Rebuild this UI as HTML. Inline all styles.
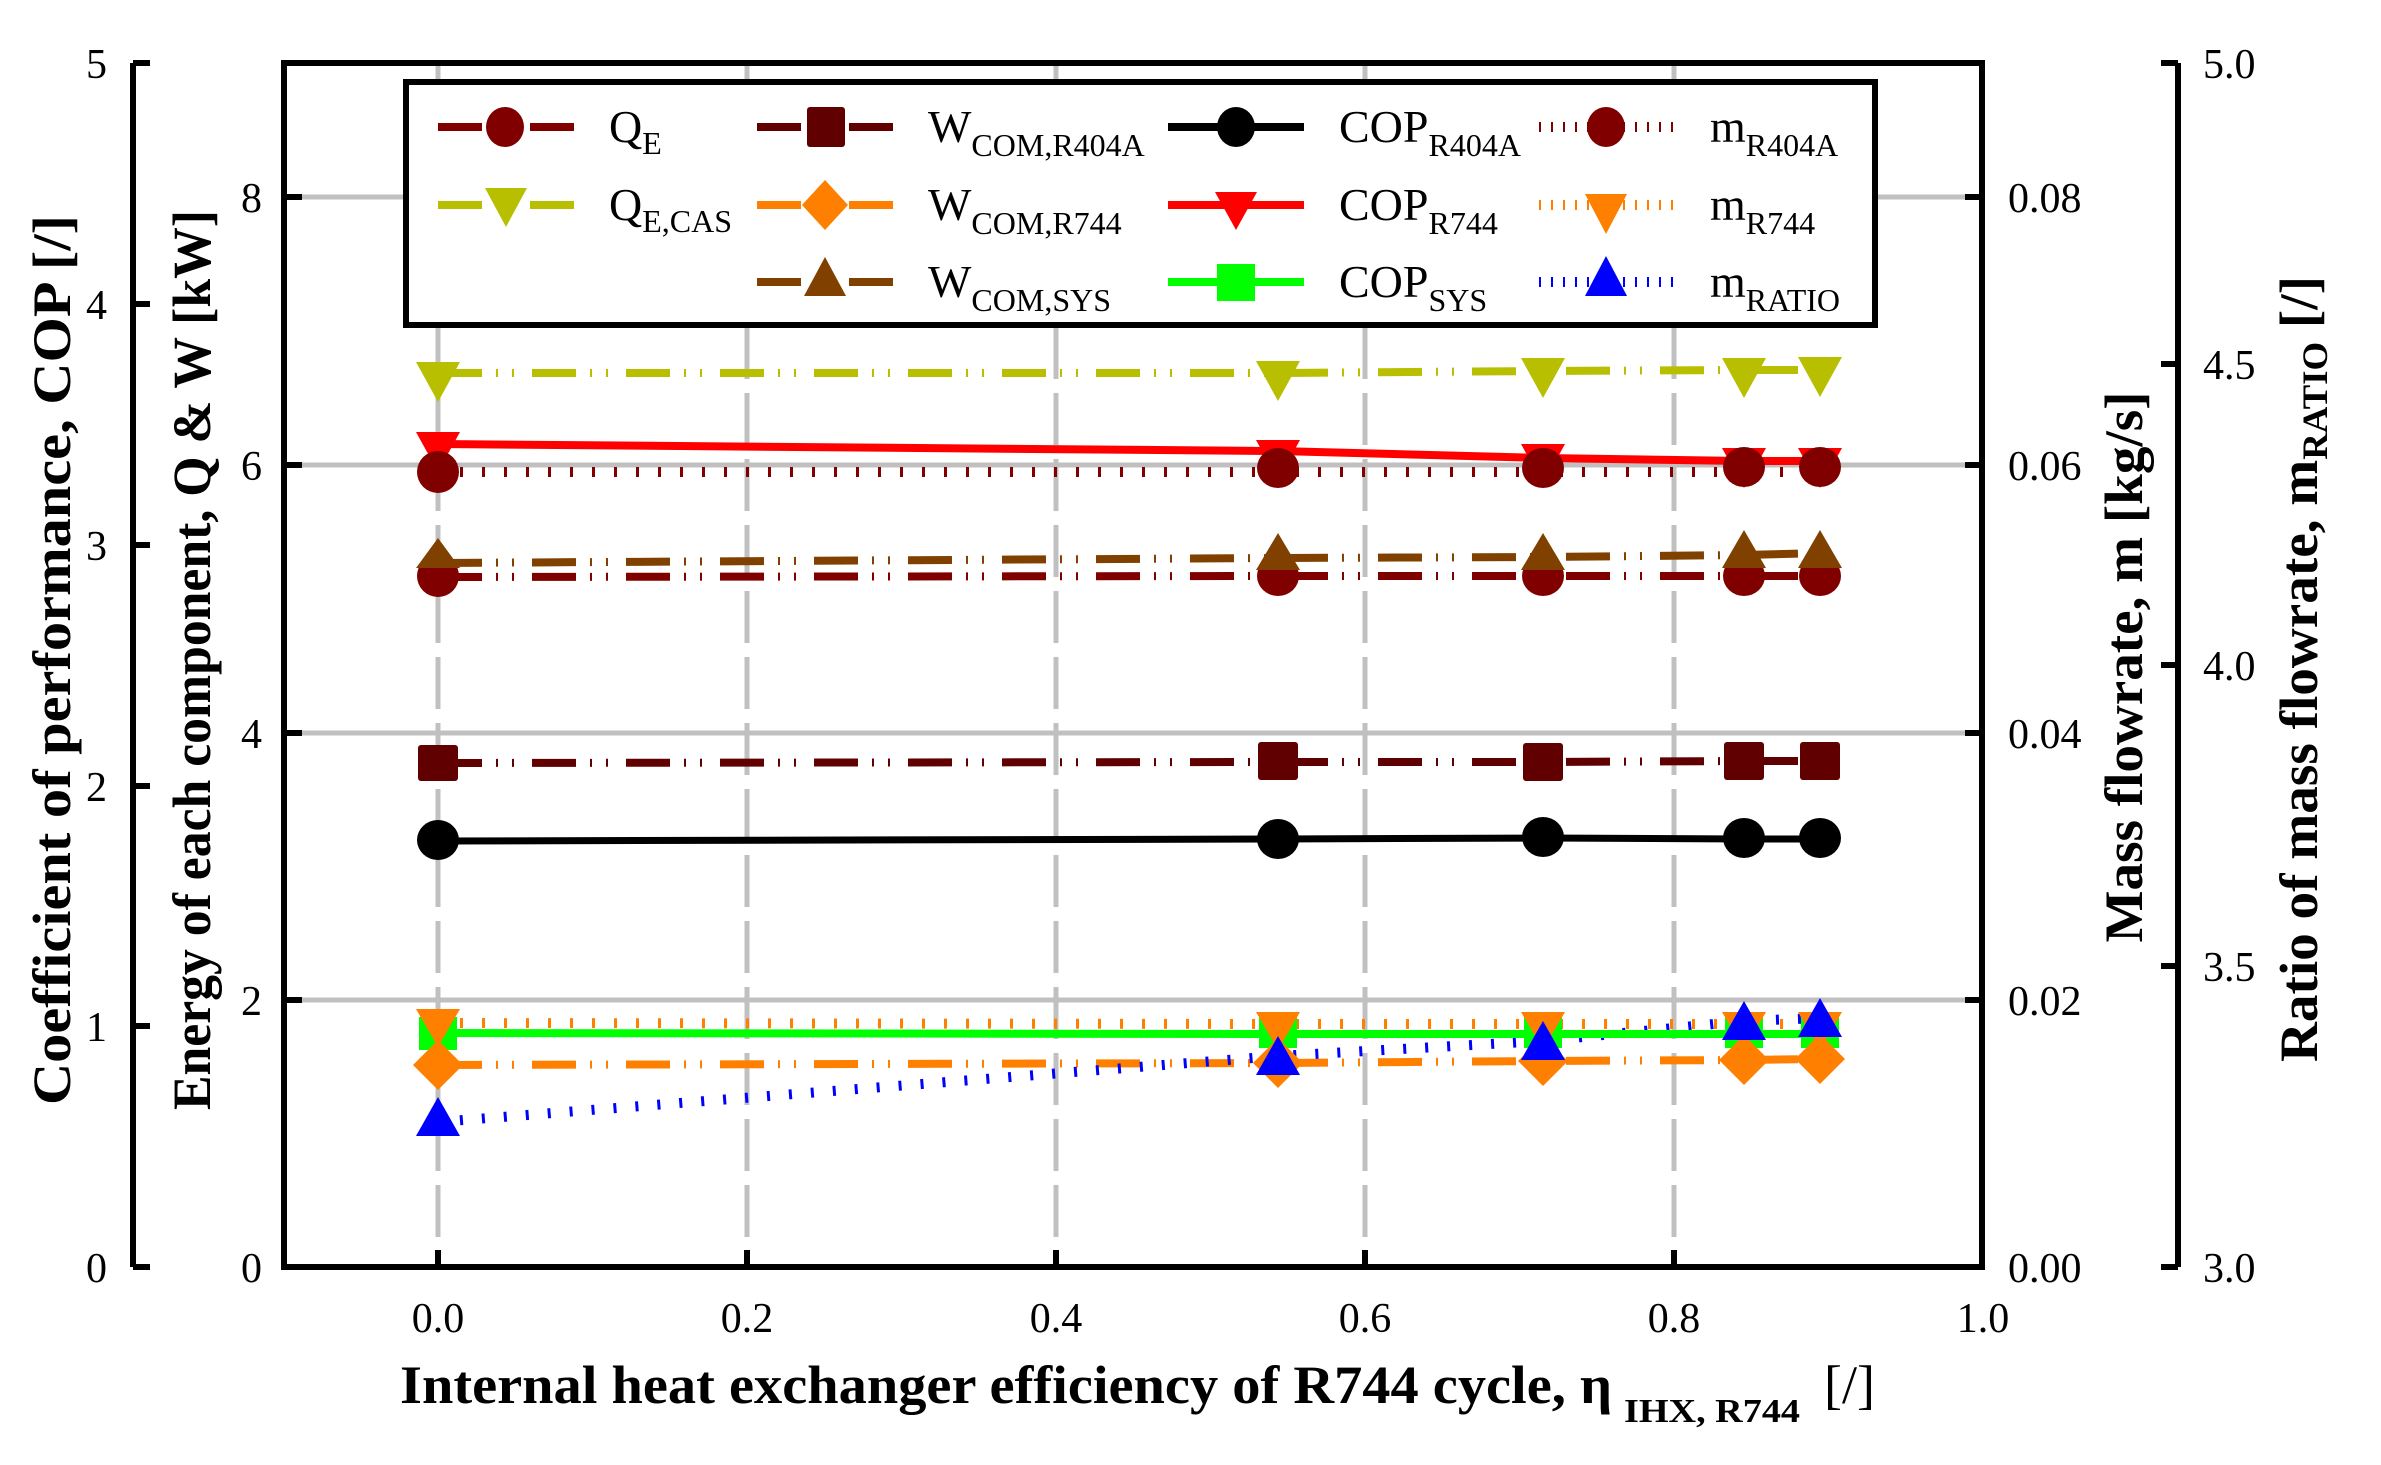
<!DOCTYPE html>
<html><head><meta charset="utf-8"><style>
html,body{margin:0;padding:0;background:#fff;}
svg{display:block;}
text{font-family:"Liberation Serif",serif;}
</style></head><body>
<svg width="2381" height="1465" viewBox="0 0 2381 1465" xmlns="http://www.w3.org/2000/svg">
<defs>
<clipPath id="pc"><rect x="284" y="63" width="1698" height="1204"/></clipPath>
</defs>
<g stroke="#c0c0c0" stroke-width="5" fill="none">
<line x1="284" y1="1000" x2="1982" y2="1000"/>
<line x1="284" y1="733" x2="1982" y2="733"/>
<line x1="284" y1="465" x2="1982" y2="465"/>
<line x1="284" y1="197" x2="1982" y2="197"/>
<g stroke-dasharray="52 14">
<line x1="438" y1="63" x2="438" y2="1267"/>
<line x1="747" y1="63" x2="747" y2="1267"/>
<line x1="1056" y1="63" x2="1056" y2="1267"/>
<line x1="1365" y1="63" x2="1365" y2="1267"/>
<line x1="1674" y1="63" x2="1674" y2="1267"/>
</g>
</g>

<g clip-path="url(#pc)" fill="none">
<g stroke-width="8" stroke-dasharray="44 14 2 14 2 18">
<polyline stroke="#b8bf00" points="438,373 1278,373 1543,371 1744,370 1820,370"/>
<polyline stroke="#804000" points="438,563 1278,558 1543,557 1744,555 1820,553"/>
<polyline stroke="#800000" points="438,577 1278,576 1543,576 1744,576 1820,576"/>
<polyline stroke="#600000" points="438,763 1278,762 1543,762 1744,761 1820,761"/>
<polyline stroke="#ff8000" points="438,1065 1278,1063 1543,1061 1744,1060 1820,1059"/>
</g>
<g stroke-width="10" stroke-dasharray="3 19">
<polyline stroke="#800000" points="438,472 1278,472 1543,472 1744,472 1820,472"/>
<polyline stroke="#ff8000" points="438,1023 1278,1024 1543,1024 1744,1024 1820,1024"/>
<polyline stroke="#0000ff" points="438,1122 1278,1056 1543,1041 1744,1021 1820,1018"/>
</g>
<polyline stroke="#ff0000" stroke-width="8" points="438,444 1278,451 1543,458 1744,461 1820,461"/>
<polyline stroke="#000" stroke-width="7" points="438,841 1278,839 1543,838 1744,839 1820,839"/>
<polyline stroke="#00ff00" stroke-width="8" points="438,1033 1278,1034 1543,1034 1744,1034 1820,1034"/>
</g>

<g>
<g fill="#b8bf00">
<polygon points="416,362 460,362 438,402"/><polygon points="1256,361 1300,361 1278,401"/><polygon points="1521,358 1565,358 1543,398"/><polygon points="1722,358 1766,358 1744,398"/><polygon points="1798,357 1842,357 1820,397"/>
</g>
<g fill="#ff0000">
<polygon points="416,432 460,432 438,472"/><polygon points="1256,440 1300,440 1278,480"/><polygon points="1521,444 1565,444 1543,484"/><polygon points="1722,448 1766,448 1744,488"/><polygon points="1798,448 1842,448 1820,488"/>
</g>
<g fill="#800000">
<ellipse cx="438" cy="472" rx="21" ry="21"/><ellipse cx="1278" cy="468" rx="21" ry="20"/><ellipse cx="1543" cy="468" rx="21" ry="20"/><ellipse cx="1744" cy="467" rx="21" ry="20"/><ellipse cx="1820" cy="467" rx="21" ry="20"/>
</g>
<g fill="#800000">
<ellipse cx="438" cy="576" rx="21" ry="21"/><ellipse cx="1278" cy="576" rx="21" ry="20"/><ellipse cx="1543" cy="576" rx="21" ry="20"/><ellipse cx="1744" cy="576" rx="21" ry="20"/><ellipse cx="1820" cy="576" rx="21" ry="20"/>
</g>
<g fill="#804000">
<polygon points="416,568 460,568 438,538"/><polygon points="1256,570 1300,570 1278,533"/><polygon points="1521,570 1565,570 1543,533"/><polygon points="1722,568 1766,568 1744,530"/><polygon points="1798,568 1842,568 1820,530"/>
</g>
<g fill="#600000">
<rect x="418" y="745" width="40" height="36" rx="3"/><rect x="1258" y="742" width="40" height="38" rx="3"/><rect x="1523" y="743" width="40" height="38" rx="3"/><rect x="1724" y="742" width="40" height="38" rx="3"/><rect x="1800" y="742" width="40" height="38" rx="3"/>
</g>
<g fill="#000">
<ellipse cx="438" cy="840" rx="21" ry="20"/><ellipse cx="1278" cy="839" rx="21" ry="20"/><ellipse cx="1543" cy="837" rx="21" ry="20"/><ellipse cx="1744" cy="838" rx="21" ry="20"/><ellipse cx="1820" cy="838" rx="21" ry="20"/>
</g>
<g fill="#00ff00">
<rect x="419" y="1017" width="38" height="33"/><rect x="1259" y="1014" width="38" height="34"/><rect x="1524" y="1014" width="38" height="34"/><rect x="1725" y="1014" width="38" height="34"/><rect x="1801" y="1014" width="38" height="34"/>
</g>
<g fill="#ff8000">
<polygon points="416,1009 460,1009 438,1047"/><polygon points="1256,1012 1300,1012 1278,1050"/><polygon points="1521,1012 1565,1012 1543,1050"/><polygon points="1722,1012 1766,1012 1744,1050"/><polygon points="1798,1012 1842,1012 1820,1050"/>
</g>
<g fill="#ff8000">
<polygon points="438,1040 463,1065 438,1090 413,1065"/><polygon points="1278,1038 1303,1063 1278,1088 1253,1063"/><polygon points="1543,1036 1568,1061 1543,1086 1518,1061"/><polygon points="1744,1035 1769,1060 1744,1085 1719,1060"/><polygon points="1820,1034 1845,1059 1820,1084 1795,1059"/>
</g>
<g fill="#0000ff">
<polygon points="416,1136 460,1136 438,1097"/><polygon points="1256,1075 1300,1075 1278,1036"/><polygon points="1521,1060 1565,1060 1543,1021"/><polygon points="1722,1040 1766,1040 1744,1001"/><polygon points="1798,1037 1842,1037 1820,998"/>
</g>
</g>

<g stroke="#000" fill="none">
<rect x="284" y="63" width="1698" height="1204" stroke-width="6"/>
<g stroke-width="6">
<line x1="284" y1="1000" x2="302" y2="1000"/><line x1="284" y1="733" x2="302" y2="733"/><line x1="284" y1="465" x2="302" y2="465"/><line x1="284" y1="197" x2="302" y2="197"/>
<line x1="438" y1="1267" x2="438" y2="1250"/><line x1="747" y1="1267" x2="747" y2="1250"/><line x1="1056" y1="1267" x2="1056" y2="1250"/><line x1="1365" y1="1267" x2="1365" y2="1250"/><line x1="1674" y1="1267" x2="1674" y2="1250"/>
<line x1="1982" y1="1000" x2="1965" y2="1000"/><line x1="1982" y1="733" x2="1965" y2="733"/><line x1="1982" y1="465" x2="1965" y2="465"/><line x1="1982" y1="197" x2="1965" y2="197"/>
<line x1="133" y1="63" x2="133" y2="1267"/>
<line x1="133" y1="63" x2="150" y2="63"/><line x1="133" y1="304" x2="150" y2="304"/><line x1="133" y1="545" x2="150" y2="545"/><line x1="133" y1="786" x2="150" y2="786"/><line x1="133" y1="1026" x2="150" y2="1026"/><line x1="133" y1="1267" x2="150" y2="1267"/>
<line x1="2178" y1="63" x2="2178" y2="1267"/>
<line x1="2178" y1="63" x2="2161" y2="63"/><line x1="2178" y1="364" x2="2161" y2="364"/><line x1="2178" y1="665" x2="2161" y2="665"/><line x1="2178" y1="966" x2="2161" y2="966"/><line x1="2178" y1="1267" x2="2161" y2="1267"/>
</g>
</g>

<g font-size="42" fill="#000">
<g text-anchor="end">
<text x="107" y="78">5</text><text x="107" y="319">4</text><text x="107" y="560">3</text><text x="107" y="801">2</text><text x="107" y="1041">1</text><text x="107" y="1282">0</text>
<text x="262" y="212">8</text><text x="262" y="480">6</text><text x="262" y="748">4</text><text x="262" y="1015">2</text><text x="262" y="1282">0</text>
</g>
<g text-anchor="start">
<text x="2008" y="212">0.08</text><text x="2008" y="480">0.06</text><text x="2008" y="748">0.04</text><text x="2008" y="1015">0.02</text><text x="2008" y="1282">0.00</text>
<text x="2203" y="78">5.0</text><text x="2203" y="379">4.5</text><text x="2203" y="680">4.0</text><text x="2203" y="981">3.5</text><text x="2203" y="1282">3.0</text>
</g>
<g text-anchor="middle">
<text x="438" y="1332">0.0</text><text x="747" y="1332">0.2</text><text x="1056" y="1332">0.4</text><text x="1365" y="1332">0.6</text><text x="1674" y="1332">0.8</text><text x="1983" y="1332">1.0</text>
</g>
</g>

<text x="400" y="1403" font-size="54" font-weight="bold" textLength="1212" lengthAdjust="spacingAndGlyphs">Internal heat exchanger efficiency of R744 cycle, η</text>
<text x="1624" y="1422" font-size="34" font-weight="bold" textLength="176" lengthAdjust="spacingAndGlyphs">IHX, R744</text>
<text x="1824" y="1403" font-size="54">[/]</text>

<text transform="translate(70,660) rotate(-90)" text-anchor="middle" font-size="54" font-weight="bold" textLength="890" lengthAdjust="spacingAndGlyphs">Coefficient of performance, COP [/]</text>
<text transform="translate(210,660) rotate(-90)" text-anchor="middle" font-size="54" font-weight="bold" textLength="900" lengthAdjust="spacingAndGlyphs">Energy of each component, Q &amp; W [kW]</text>
<text transform="translate(2142,667) rotate(-90)" text-anchor="middle" font-size="54" font-weight="bold" textLength="551" lengthAdjust="spacingAndGlyphs">Mass flowrate, m [kg/s]</text>
<text transform="translate(2317,669) rotate(-90)" text-anchor="middle" font-size="54" font-weight="bold" textLength="786" lengthAdjust="spacingAndGlyphs">Ratio of mass flowrate, m<tspan font-size="36" dy="10">RATIO</tspan><tspan dy="-10"> [/]</tspan></text>

<rect x="406" y="82" width="1469" height="243" fill="#fff" stroke="#000" stroke-width="6"/>
<g stroke-width="8">
<line x1="438" y1="127" x2="574" y2="127" stroke="#800000" stroke-dasharray="44 48 44"/>
<line x1="438" y1="205" x2="574" y2="205" stroke="#b8bf00" stroke-dasharray="44 48 44"/>
<line x1="757" y1="127" x2="893" y2="127" stroke="#600000" stroke-dasharray="44 48 44"/>
<line x1="757" y1="205" x2="893" y2="205" stroke="#ff8000" stroke-dasharray="44 48 44"/>
<line x1="757" y1="282" x2="893" y2="282" stroke="#804000" stroke-dasharray="44 48 44"/>
<line x1="1168" y1="127" x2="1304" y2="127" stroke="#000"/>
<line x1="1168" y1="205" x2="1304" y2="205" stroke="#ff0000"/>
<line x1="1168" y1="282" x2="1304" y2="282" stroke="#00ff00"/>
<line x1="1539" y1="127" x2="1674" y2="127" stroke="#800000" stroke-width="10" stroke-dasharray="2 10"/>
<line x1="1539" y1="205" x2="1674" y2="205" stroke="#ff8000" stroke-width="10" stroke-dasharray="2 10"/>
<line x1="1539" y1="282" x2="1674" y2="282" stroke="#0000ff" stroke-width="10" stroke-dasharray="2 10"/>
</g>
<ellipse cx="505" cy="127" rx="19" ry="20" fill="#800000"/>
<polygon points="485,188 527,188 506,227" fill="#b8bf00"/>
<rect x="807" y="107" width="38" height="40" rx="3" fill="#600000"/>
<polygon points="825,180 848,205 825,230 802,205" fill="#ff8000"/>
<polygon points="804,296 846,296 825,257" fill="#804000"/>
<ellipse cx="1236" cy="127" rx="19" ry="20" fill="#000"/>
<polygon points="1215,192 1257,192 1236,230" fill="#ff0000"/>
<rect x="1217" y="264" width="38" height="37" fill="#00ff00"/>
<ellipse cx="1606" cy="127" rx="19" ry="20" fill="#800000"/>
<polygon points="1585,194 1627,194 1606,234" fill="#ff8000"/>
<polygon points="1585,296 1627,296 1606,256" fill="#0000ff"/>
<g font-size="46" fill="#000">
<text x="609" y="142">Q<tspan font-size="32" dy="12">E</tspan></text>
<text x="609" y="220">Q<tspan font-size="32" dy="12">E,CAS</tspan></text>
<text x="928" y="142">W<tspan font-size="32" dy="14">COM,R404A</tspan></text>
<text x="928" y="220">W<tspan font-size="32" dy="14">COM,R744</tspan></text>
<text x="928" y="297">W<tspan font-size="32" dy="14">COM,SYS</tspan></text>
<text x="1339" y="142">COP<tspan font-size="32" dy="14">R404A</tspan></text>
<text x="1339" y="220">COP<tspan font-size="32" dy="14">R744</tspan></text>
<text x="1339" y="297">COP<tspan font-size="32" dy="14">SYS</tspan></text>
<text x="1710" y="142">m<tspan font-size="32" dy="14">R404A</tspan></text>
<text x="1710" y="220">m<tspan font-size="32" dy="14">R744</tspan></text>
<text x="1710" y="297">m<tspan font-size="32" dy="14">RATIO</tspan></text>
</g>
</svg>
</body></html>
